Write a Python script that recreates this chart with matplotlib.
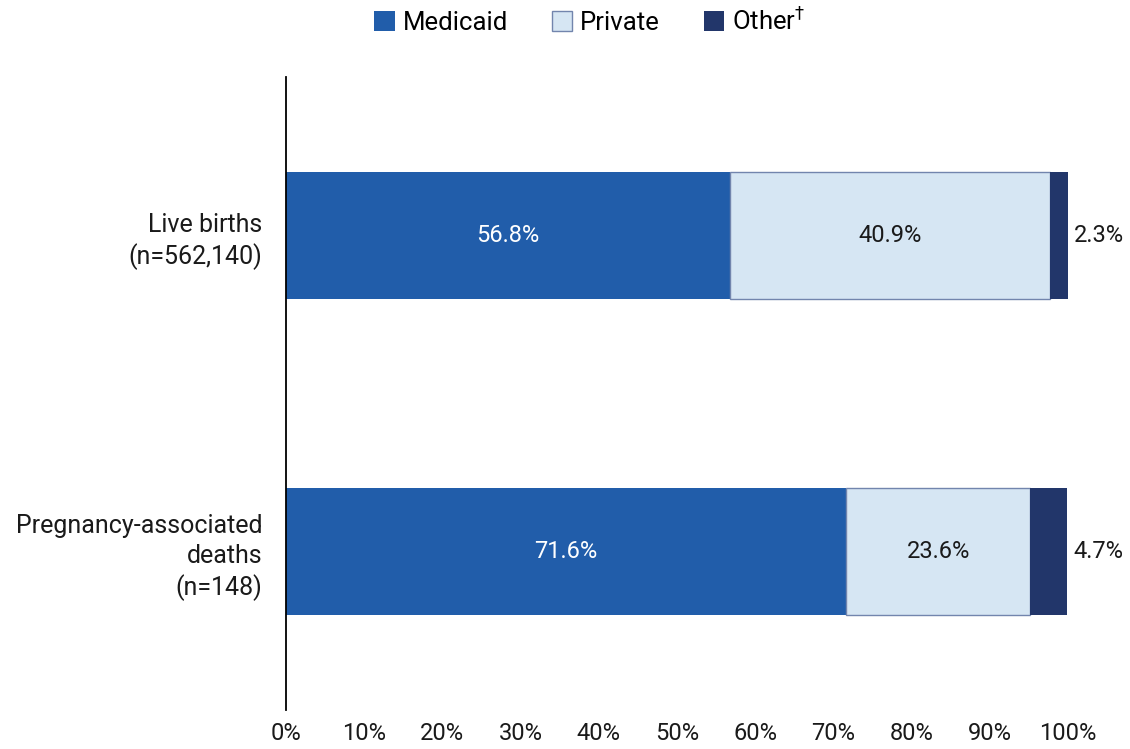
import numpy as np
import matplotlib.pyplot as plt
from matplotlib.patches import Patch

plt.rcParams['font.family'] = ['Roboto', 'DejaVu Sans']

# Data
categories = ['Live births\n(n=562,140)', 'Pregnancy-associated\ndeaths\n(n=148)']
medicaid = np.array([56.8, 71.6])
private = np.array([40.9, 23.6])
other = np.array([2.3, 4.7])
ticks = np.arange(0, 101, 10)

c_medicaid = '#215DAA'
c_private = '#D6E6F3'
c_private_edge = '#7285AD'
c_other = '#22366A'

fig = plt.figure(figsize=(11.3, 7.49), dpi=100)
ax = fig.add_axes([0.2531, 0.0521, 0.6920, 0.8451])

y = np.arange(len(categories))
h = 0.4
ax.barh(y, medicaid, height=h, color=c_medicaid)
ax.barh(y, private, left=medicaid, height=h, color=c_private,
        edgecolor=c_private_edge, linewidth=1)
ax.barh(y, other, left=medicaid + private, height=h, color=c_other)

for i in range(len(categories)):
    ax.text(medicaid[i] / 2, y[i], f'{medicaid[i]:.1f}%', color='white',
            ha='center', va='center', fontsize=17)
    ax.text(medicaid[i] + private[i] / 2, y[i], f'{private[i]:.1f}%',
            color='#1a1a1a', ha='center', va='center', fontsize=17)
    ax.text(medicaid[i] + private[i] + other[i] + 0.8, y[i], f'{other[i]:.1f}%',
            color='#1a1a1a', ha='left', va='center', fontsize=17)

ax.set_xlim(0, 100)
ax.set_ylim(1.5, -0.5)
ax.set_yticks(y)
ax.set_yticklabels(categories, fontsize=18, color='#1a1a1a', linespacing=1.3)
ax.set_xticks(ticks)
ax.set_xticklabels([f'{t}%' for t in ticks], fontsize=17, color='#1a1a1a')
ax.tick_params(axis='both', length=0)
ax.tick_params(axis='x', pad=9)
ax.tick_params(axis='y', pad=17)
for s in ['top', 'right', 'bottom']:
    ax.spines[s].set_visible(False)
ax.spines['left'].set_color('black')
ax.spines['left'].set_linewidth(1.3)

handles = [Patch(facecolor=c_medicaid),
           Patch(facecolor=c_private, edgecolor=c_private_edge),
           Patch(facecolor=c_other)]
fig.legend(handles, ['Medicaid', 'Private', 'Other$^{\\dagger}$'],
           loc='upper center', bbox_to_anchor=(0.522, 1.022), ncol=3,
           frameon=False, fontsize=18.5, handlelength=0.8, handleheight=0.8,
           handletextpad=0.3, columnspacing=1.7)

fig.savefig('out.png', dpi=100)
